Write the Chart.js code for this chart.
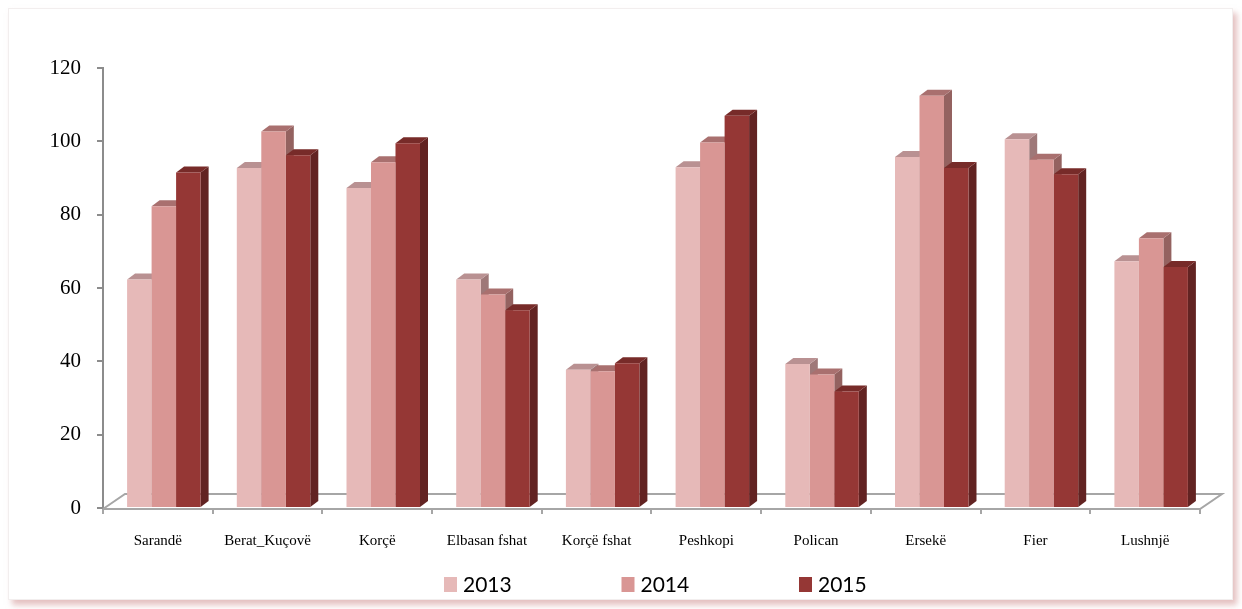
<!DOCTYPE html>
<html>
<head>
<meta charset="utf-8">
<script src="https://cdn.jsdelivr.net/npm/chart.js@4"></script>
<style>
  html, body { margin: 0; padding: 0; background: #fff; }
  #kuti {
    position: absolute; left: 8px; top: 8px; width: 1225px; height: 592px;
    background: #fff; border: 1px solid #f2eeee; box-sizing: border-box;
    box-shadow: 4px 5px 6px rgba(205, 140, 140, 0.55);
  }
  canvas { display: block; }
</style>
</head>
<body>
<div id="kuti"><canvas id="grafiku" width="1225" height="592"></canvas></div>
<script>
// te dhenat
const qytetet = ['Sarandë', 'Berat_Kuçovë', 'Korçë', 'Elbasan fshat', 'Korçë fshat', 'Peshkopi', 'Polican', 'Ersekë', 'Fier', 'Lushnjë'];
const vitet = ['2013', '2014', '2015'];
const vlerat2013 = [62.3, 92.7, 87.3, 62.3, 37.7, 92.9, 39.3, 95.7, 100.6, 67.3];
const vlerat2014 = [82.3, 102.7, 94.3, 58.2, 37.3, 99.7, 36.4, 112.4, 95.0, 73.6];
const vlerat2015 = [91.5, 96.2, 99.5, 53.9, 39.5, 107.0, 31.8, 92.7, 91.0, 65.7];
const yTicks = [0, 20, 40, 60, 80, 100, 120];

// ngjyrat: ballina, maja, ana
const ngjyrat = [
    { ball: '#E6B9B8', maje: '#B99192', ane: '#9E7878' },
    { ball: '#D99694', maje: '#A9706F', ane: '#946260' },
    { ball: '#953735', maje: '#772B29', ane: '#622322' }
];

const DX = 8, DY = 6;   // thellesia e shtyllave
const ZHVENDOSJE = 6;   // shtyllat pak djathtas si ne perspektive

// dyshemeja + faqet 3D (vizatohen para ballinave)
const tre_D = {
    id: 'treD',
    afterLayout(chart) {
        const s = chart.scales.xb;
        s._startPixel += ZHVENDOSJE;
        s._endPixel += ZHVENDOSJE;
    },
    beforeDatasetsDraw(chart) {
        const ctx = chart.ctx, a = chart.chartArea, xs = chart.scales.x;
        const fy = a.bottom + 1, by = fy - 15, fdx = 22;
        ctx.save();
        ctx.strokeStyle = '#A6A6A6';
        ctx.lineWidth = 2;
        ctx.beginPath();
        ctx.moveTo(a.left, fy);
        ctx.lineTo(a.left + fdx, by);
        ctx.lineTo(a.right + fdx, by);
        ctx.lineTo(a.right, fy);
        ctx.lineTo(a.left, fy);
        ctx.stroke();
        const hap = (xs.getPixelForValue(1) - xs.getPixelForValue(0));
        for (let i = 0; i <= qytetet.length; i++) {
            const px = Math.round(xs.getPixelForValue(0) - hap / 2 + i * hap);
            ctx.beginPath();
            ctx.moveTo(px, fy);
            ctx.lineTo(px, fy + 5);
            ctx.stroke();
        }
        chart.data.datasets.forEach((ds, d) => {
            const meta = chart.getDatasetMeta(d);
            meta.data.forEach(bar => {
                const p = bar.getProps(['x', 'y', 'base', 'width'], true);
                const l = p.x - p.width / 2, r = p.x + p.width / 2;
                ctx.fillStyle = ngjyrat[d].ane;
                ctx.beginPath();
                ctx.moveTo(r, p.y);
                ctx.lineTo(r + DX, p.y - DY);
                ctx.lineTo(r + DX, p.base - DY);
                ctx.lineTo(r, p.base);
                ctx.closePath();
                ctx.fill();
                ctx.fillStyle = ngjyrat[d].maje;
                ctx.beginPath();
                ctx.moveTo(l, p.y);
                ctx.lineTo(l + DX, p.y - DY);
                ctx.lineTo(r + DX, p.y - DY);
                ctx.lineTo(r, p.y);
                ctx.closePath();
                ctx.fill();
            });
        });
        ctx.restore();
    },
    afterDraw(chart) {
        // legjenda
        const ctx = chart.ctx;
        ctx.save();
        ctx.font = '21px Lato, "Open Sans", sans-serif';
        ctx.textBaseline = 'middle';
        chart.data.datasets.forEach((ds, d) => {
            const x0 = 435 + d * 177.5;
            ctx.fillStyle = ds.backgroundColor;
            ctx.fillRect(x0, 568, 13, 15);
            ctx.fillStyle = '#000';
            ctx.fillText(ds.label, x0 + 19, 576);
        });
        ctx.restore();
    }
};

var ctx = document.getElementById('grafiku').getContext('2d');
var chart = new Chart(ctx, {
    type: 'bar',
    data: {
        labels: qytetet,
        datasets: [
            { label: vitet[0], data: vlerat2013, backgroundColor: ngjyrat[0].ball, xAxisID: 'xb' },
            { label: vitet[1], data: vlerat2014, backgroundColor: ngjyrat[1].ball, xAxisID: 'xb' },
            { label: vitet[2], data: vlerat2015, backgroundColor: ngjyrat[2].ball, xAxisID: 'xb' }
        ]
    },
    options: {
        responsive: false,
        animation: false,
        layout: { padding: { top: 59, right: 34, left: 0, bottom: 0 } },
        datasets: { bar: { categoryPercentage: 0.67, barPercentage: 1, borderWidth: 0 } },
        plugins: {
            legend: { display: false },
            tooltip: { enabled: false }
        },
        scales: {
            x: {
                type: 'category',
                offset: true,
                grid: { display: false, drawTicks: false },
                border: { display: false },
                ticks: {
                    color: '#000', padding: 24, maxRotation: 0, autoSkip: false,
                    font: { family: '"Liberation Serif", "DejaVu Serif", serif', size: 15 }
                },
                afterFit(scale) { scale.height = 93; }
            },
            xb: {
                type: 'category',
                position: 'bottom',
                offset: true,
                display: false
            },
            y: {
                min: 0, max: 120,
                afterBuildTicks(scale) { scale.ticks = yTicks.map(v => ({ value: v })); },
                grid: { drawOnChartArea: false, drawTicks: true, tickLength: 6, color: '#8C8C8C', lineWidth: 2 },
                border: { display: true, color: '#8C8C8C', width: 2 },
                ticks: {
                    color: '#000', padding: 16,
                    font: { family: '"Liberation Serif", "DejaVu Serif", serif', size: 21 }
                },
                afterFit(scale) { scale.width = 94; }
            }
        }
    },
    plugins: [tre_D]
});
</script>
</body>
</html>
